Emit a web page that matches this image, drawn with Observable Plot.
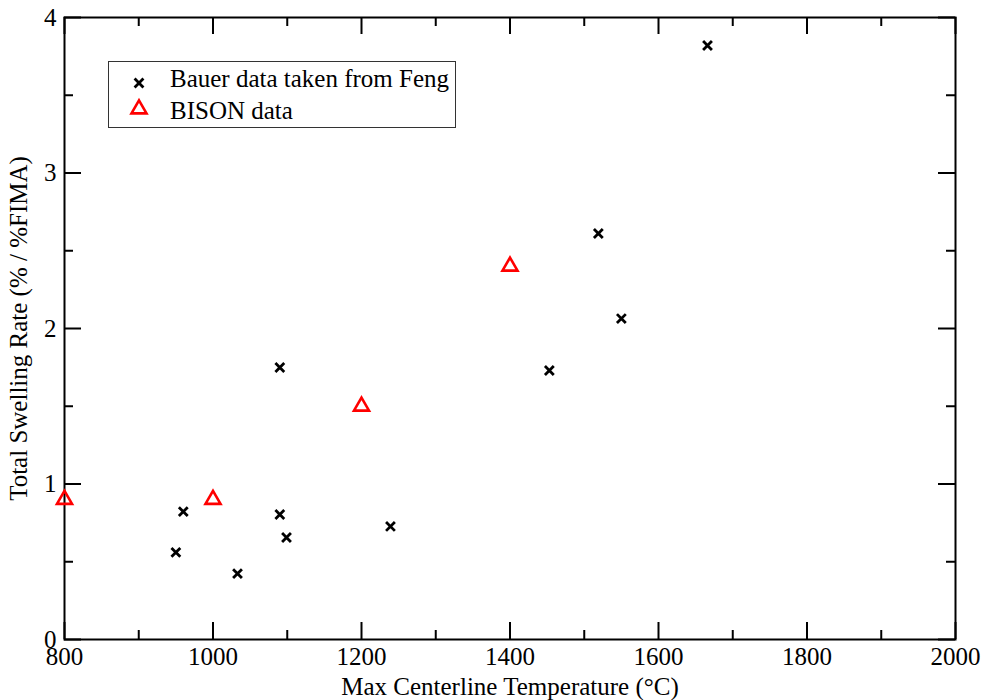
<!DOCTYPE html>
<html><head><meta charset="utf-8">
<script src="https://cdn.jsdelivr.net/npm/d3@7"></script>
<script src="https://cdn.jsdelivr.net/npm/@observablehq/plot@0.6"></script>
<style>
body{margin:0;background:#fff;}
#wrap{position:relative;width:982px;height:700px;font-family:"Liberation Serif",serif;}
#legend{position:absolute;left:108px;top:61px;width:346px;height:65px;border:1.5px solid #333;background:#fff;}
#legend svg{position:absolute;left:18px;}
#legend span{position:absolute;left:61px;font-size:25px;line-height:26px;color:#000;white-space:nowrap;}
</style>
</head><body><div id="wrap"></div>
<script>
const bauerTemp = [950, 960, 1033, 1090, 1090, 1099, 1239, 1453, 1519, 1550, 1666];
const bauerRate = [0.56, 0.822, 0.424, 1.749, 0.804, 0.656, 0.727, 1.730, 2.611, 2.064, 3.82];
const bisonTemp = [800, 1000, 1200, 1400];
const bisonRate = [0.9, 0.9, 1.50, 2.40];
const seriesNames = ["Bauer data taken from Feng", "BISON data"];
const xMajor = [800, 1000, 1200, 1400, 1600, 1800, 2000];
const xMinor = [900, 1100, 1300, 1500, 1700, 1900];
const yMajor = [0, 1, 2, 3, 4];
const yMinor = [0.5, 1.5, 2.5, 3.5];
const xLabel = "Max Centerline Temperature (°C)";
const yLabel = "Total Swelling Rate (% / %FIMA)";

const bauer = bauerTemp.map((t, i) => ({t, r: bauerRate[i]}));
const bison = bisonTemp.map((t, i) => ({t, r: bisonRate[i]}));

const W = 982, H = 700, mL = 64, mR = 27, mT = 17, mB = 61;
const pw = W - mL - mR, ph = H - mT - mB;
const maj = 17, mnr = 9;
const FS = 25;
const tickStyle = {stroke: "black", strokeWidth: 2};

const chart = Plot.plot({
  width: W, height: H,
  marginLeft: mL, marginRight: mR, marginTop: mT, marginBottom: mB,
  style: {fontFamily: "Liberation Serif, serif", fontSize: FS + "px", background: "white", color: "black"},
  x: {domain: [800, 2000], axis: null},
  y: {domain: [0, 4], axis: null},
  marks: [
    Plot.tickX(xMajor, {x: d => d, insetTop: ph - maj, ...tickStyle}),
    Plot.tickX(xMinor, {x: d => d, insetTop: ph - mnr, ...tickStyle}),
    Plot.tickX(xMajor, {x: d => d, insetBottom: ph - maj, ...tickStyle}),
    Plot.tickX(xMinor, {x: d => d, insetBottom: ph - mnr, ...tickStyle}),
    Plot.tickY(yMajor, {y: d => d, insetRight: pw - maj, ...tickStyle}),
    Plot.tickY(yMinor, {y: d => d, insetRight: pw - mnr, ...tickStyle}),
    Plot.tickY(yMajor, {y: d => d, insetLeft: pw - maj, ...tickStyle}),
    Plot.tickY(yMinor, {y: d => d, insetLeft: pw - mnr, ...tickStyle}),
    Plot.axisX({ticks: xMajor, tickSize: 0, tickPadding: 8, tickFormat: d => String(d), label: null, fontSize: FS}),
    Plot.axisY({ticks: yMajor, tickSize: 0, tickPadding: 8, tickFormat: d => String(d), label: null, fontSize: FS}),
    Plot.frame({stroke: "black", strokeWidth: 2}),
    Plot.text([xLabel], {text: d => d, frameAnchor: "bottom", dy: 47, lineAnchor: "middle", textAnchor: "middle", fontSize: FS}),
    Plot.text([yLabel], {text: d => d, frameAnchor: "left", dx: -46, rotate: -90, lineAnchor: "middle", textAnchor: "middle", fontSize: FS}),
    Plot.dot(bauer, {x: "t", y: "r", symbol: "times", r: 4.1, stroke: "black", strokeWidth: 2.8}),
    Plot.dot(bison, {x: "t", y: "r", symbol: "triangle", r: 5.6, stroke: "#ff0000", strokeWidth: 2.6, fill: "none"})
  ]
});
const wrap = document.getElementById("wrap");
wrap.appendChild(chart);

// legend overlay
const legend = document.createElement("div");
legend.id = "legend";
const syms = [{s: d3.symbolTimes, size: 52.8, stroke: "black", sw: 2.8}, {s: d3.symbolTriangle, size: 98, stroke: "#ff0000", sw: 2.6}];
const symTop = [9, 35];
const textTop = [4, 36];
seriesNames.forEach((name, i) => {
  const svg = d3.create("svg").attr("width", 24).attr("height", 24).style("top", symTop[i] + "px");
  svg.append("path").attr("transform", "translate(12,12)")
    .attr("d", d3.symbol(syms[i].s, syms[i].size)())
    .attr("fill", "none").attr("stroke", syms[i].stroke).attr("stroke-width", syms[i].sw);
  legend.appendChild(svg.node());
  const sp = document.createElement("span");
  sp.style.top = textTop[i] + "px";
  sp.textContent = name;
  legend.appendChild(sp);
});
wrap.appendChild(legend);
</script>
</body></html>
